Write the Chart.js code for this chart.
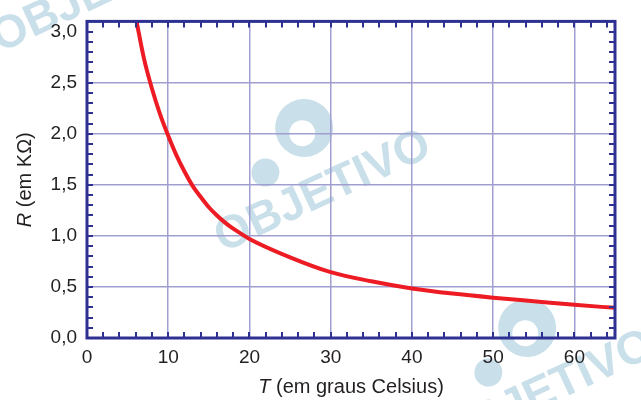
<!DOCTYPE html>
<html>
<head>
<meta charset="utf-8">
<script src="https://cdn.jsdelivr.net/npm/chart.js@4/dist/chart.umd.min.js"></script>
<style>
  html, body { margin: 0; padding: 0; background: #fff; }
  #wrap { width: 641px; height: 400px; position: relative; }
</style>
</head>
<body>
<div id="wrap"><canvas id="c"></canvas></div>
<script>
// R x T — resistência em função da temperatura
const T_VALUES = [6.1, 7, 8, 9, 10, 11, 12, 13, 14, 15, 16, 17, 18, 19, 20, 25, 30, 35, 40, 45, 50, 55, 60, 65];
const R_VALUES = [3.1, 2.74, 2.44, 2.19, 1.98, 1.79, 1.63, 1.49, 1.38, 1.28, 1.2, 1.13, 1.07, 1.02, 0.97,
                  0.79, 0.645, 0.555, 0.485, 0.435, 0.395, 0.36, 0.325, 0.295];

const X_MIN = 0, X_MAX = 65, X_STEP = 10, X_MINOR = 2;
const Y_MIN = 0, Y_MAX = 3.1, Y_STEP = 0.5, Y_MINOR = 0.1;
const X_TITLE = ['T', ' (em graus Celsius)'];
const Y_TITLE = ['R', ' (em K\u03A9)'];

const AXIS = '#2e3192', GRID = '#a09fd0', RED = '#ed1c24', INK = '#231f20';
const FONT = '"Liberation Sans", Arial, Helvetica, sans-serif';

const isMajorY = (v) => Math.abs(v / Y_STEP - Math.round(v / Y_STEP)) < 1e-6;

// marca d'água "OBJETIVO" atrás da grade
const watermark = {
  id: 'watermark',
  beforeDraw(chart) {
    const { ctx } = chart;
    ctx.save();
    ctx.fillStyle = '#fff';
    ctx.fillRect(0, 0, chart.width, chart.height);
    const spots = [[100, -8], [323, 192], [546, 392]];
    for (const [cx, cy] of spots) {
      ctx.save();
      ctx.translate(cx, cy);
      ctx.rotate(-25 * Math.PI / 180);
      ctx.fillStyle = '#c9dfe9';
      ctx.font = 'bold 46px ' + FONT;
      ctx.textAlign = 'center';
      ctx.textBaseline = 'middle';
      ctx.fillText('OBJETIVO', 0, 0);
      // logo
      ctx.beginPath(); ctx.arc(10, -66, 29, 0, Math.PI * 2); ctx.fill();
      ctx.beginPath(); ctx.arc(-44, -42, 14, 0, Math.PI * 2); ctx.fill();
      ctx.fillStyle = '#fff';
      ctx.beginPath(); ctx.arc(6, -62, 13, 0, Math.PI * 2); ctx.fill();
      ctx.restore();
    }
    ctx.restore();
  },
};

// tiques internos (menores e maiores) nos quatro lados + títulos dos eixos
const frame = {
  id: 'frame',
  afterDraw(chart) {
    const { ctx, chartArea: a, scales } = chart;
    ctx.save();
    ctx.strokeStyle = AXIS;
    ctx.lineWidth = 2;
    const L = 6;
    ctx.beginPath();
    for (let i = 1; X_MIN + i * X_MINOR < X_MAX; i++) {
      const x = Math.round(scales.x.getPixelForValue(X_MIN + i * X_MINOR));
      ctx.moveTo(x, a.bottom); ctx.lineTo(x, a.bottom - L);
      ctx.moveTo(x, a.top); ctx.lineTo(x, a.top + L);
    }
    for (let i = 1; Y_MIN + i * Y_MINOR < Y_MAX - 1e-6; i++) {
      const y = Math.round(scales.y.getPixelForValue(Y_MIN + i * Y_MINOR));
      ctx.moveTo(a.left, y); ctx.lineTo(a.left + L, y);
      ctx.moveTo(a.right, y); ctx.lineTo(a.right - L, y);
    }
    ctx.stroke();
    ctx.lineWidth = 3;
    ctx.strokeRect(a.left, a.top, a.right - a.left, a.bottom - a.top);

    ctx.fillStyle = INK;
    ctx.textBaseline = 'alphabetic';
    const twoPart = (parts, cx, cy) => {
      ctx.font = 'italic 20px ' + FONT;
      const w1 = ctx.measureText(parts[0]).width;
      ctx.font = '20px ' + FONT;
      const w2 = ctx.measureText(parts[1]).width;
      const x0 = cx - (w1 + w2) / 2;
      ctx.textAlign = 'left';
      ctx.font = 'italic 20px ' + FONT;
      ctx.fillText(parts[0], x0, cy);
      ctx.font = '20px ' + FONT;
      ctx.fillText(parts[1], x0 + w1, cy);
    };
    twoPart(X_TITLE, (a.left + a.right) / 2, 393);
    ctx.save();
    ctx.translate(31, (a.top + a.bottom) / 2);
    ctx.rotate(-Math.PI / 2);
    twoPart(Y_TITLE, 0, 0);
    ctx.restore();
    ctx.restore();
  },
};

const fmt = (v) => v.toFixed(1).replace('.', ',');

new Chart(document.getElementById('c'), {
  type: 'line',
  data: {
    datasets: [{
      data: T_VALUES.map((t, i) => ({ x: t, y: R_VALUES[i] })),
      borderColor: RED, borderWidth: 4, pointRadius: 0,
      cubicInterpolationMode: 'monotone', fill: false,
    }],
  },
  options: {
    responsive: true, maintainAspectRatio: false, animation: false,
    layout: { padding: { top: 10, right: 26, left: 0, bottom: 0 } },
    plugins: { legend: { display: false }, tooltip: { enabled: false } },
    scales: {
      x: {
        type: 'linear', min: X_MIN, max: X_MAX,
        border: { display: false },
        grid: {
          drawTicks: false, lineWidth: 1.5,
          color: (c) => (c.tick && c.tick.value > X_MIN && c.tick.value < X_MAX && c.tick.value % X_STEP === 0) ? GRID : 'rgba(0,0,0,0)',
        },
        ticks: {
          stepSize: X_STEP, padding: 8, color: INK, maxRotation: 0,
          font: { family: FONT, size: 19 },
          callback: (v) => (v % X_STEP === 0 ? String(v) : ''),
        },
        afterFit: (s) => { s.height = 62; },
      },
      y: {
        type: 'linear', min: Y_MIN, max: Y_MAX,
        border: { display: false },
        grid: {
          drawTicks: false, lineWidth: 1.5,
          color: (c) => (c.tick && c.tick.value > Y_MIN && c.tick.value < 2.9 && isMajorY(c.tick.value)) ? GRID : 'rgba(0,0,0,0)',
        },
        ticks: {
          stepSize: Y_MINOR, autoSkip: false, padding: 10, color: INK,
          font: { family: FONT, size: 19 },
          callback: (v) => (isMajorY(v) ? fmt(v) : ''),
        },
        afterFit: (s) => { s.width = 87; },
      },
    },
  },
  plugins: [watermark, frame],
});
</script>
</body>
</html>
